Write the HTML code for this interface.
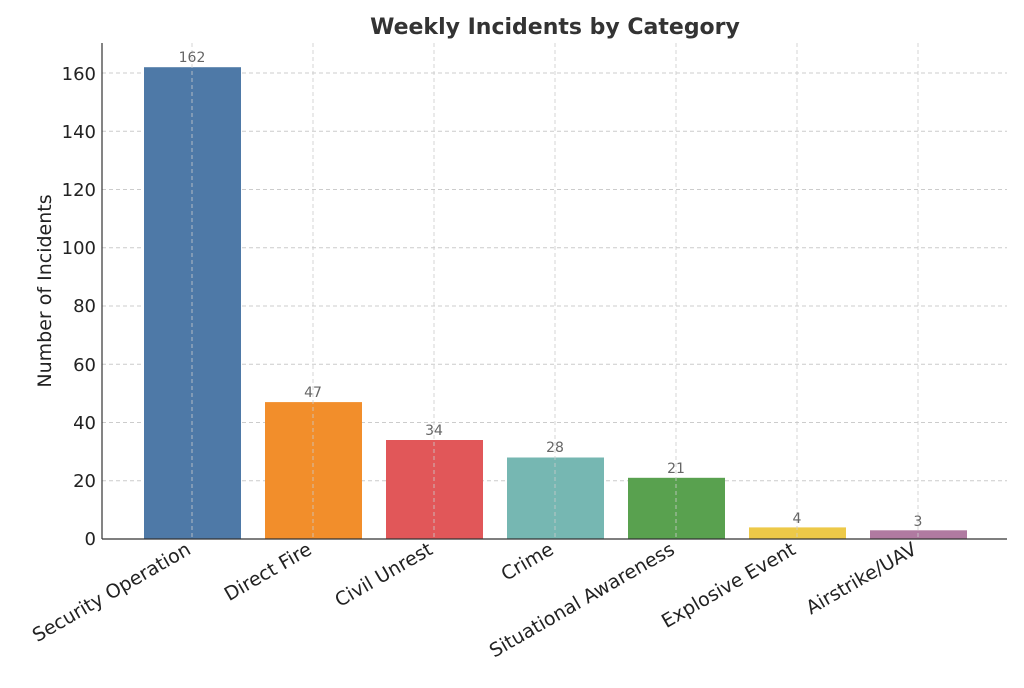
<!DOCTYPE html>
<html><head><meta charset="utf-8"><style>body{margin:0;background:#fff}</style></head><body>
<svg width="1024" height="683" xmlns="http://www.w3.org/2000/svg" font-family="DejaVu Sans, Liberation Sans, sans-serif">
<rect width="1024" height="683" fill="#fff"/>
<text x="555" y="34" text-anchor="middle" font-size="22" font-weight="bold" fill="#333">Weekly Incidents by Category</text>
<g stroke="#ccc" stroke-dasharray="4,3" stroke-width="1">
<line x1="102" x2="1007" y1="480.75" y2="480.75"/><line x1="102" x2="1007" y1="422.5" y2="422.5"/>
<line x1="102" x2="1007" y1="364.25" y2="364.25"/><line x1="102" x2="1007" y1="306" y2="306"/>
<line x1="102" x2="1007" y1="247.75" y2="247.75"/><line x1="102" x2="1007" y1="189.5" y2="189.5"/>
<line x1="102" x2="1007" y1="131.25" y2="131.25"/><line x1="102" x2="1007" y1="73" y2="73"/>
</g>
<g>
<rect x="144" y="67.2" width="97" height="471.8" fill="#4e79a7"/>
<rect x="265" y="402.1" width="97" height="136.9" fill="#f28e2b"/>
<rect x="386" y="440" width="97" height="99" fill="#e15759"/>
<rect x="507" y="457.5" width="97" height="81.5" fill="#76b7b2"/>
<rect x="628" y="477.8" width="97" height="61.2" fill="#59a14f"/>
<rect x="749" y="527.4" width="97" height="11.6" fill="#edc948"/>
<rect x="870" y="530.3" width="97" height="8.7" fill="#b07aa1"/>
</g>
<g stroke="#ccc" stroke-dasharray="4,3" stroke-width="1" opacity="0.8">
<line x1="192" x2="192" y1="43" y2="539"/><line x1="313" x2="313" y1="43" y2="539"/>
<line x1="434" x2="434" y1="43" y2="539"/><line x1="555" x2="555" y1="43" y2="539"/>
<line x1="676" x2="676" y1="43" y2="539"/><line x1="797" x2="797" y1="43" y2="539"/>
<line x1="918" x2="918" y1="43" y2="539"/>
</g>
<g font-size="14" fill="#666" text-anchor="middle">
<text x="192" y="62">162</text><text x="313" y="397">47</text><text x="434" y="435">34</text>
<text x="555" y="452">28</text><text x="676" y="473">21</text><text x="797" y="523">4</text><text x="918" y="526">3</text>
</g>
<line x1="102" x2="102" y1="43" y2="539" stroke="#333" stroke-width="1.2"/>
<line x1="102" x2="1007" y1="539" y2="539" stroke="#333" stroke-width="1.2"/>
<g font-size="18" fill="#222" text-anchor="end">
<text x="96" y="545">0</text><text x="96" y="487">20</text><text x="96" y="429">40</text>
<text x="96" y="371">60</text><text x="96" y="312">80</text><text x="96" y="254">100</text>
<text x="96" y="196">120</text><text x="96" y="138">140</text><text x="96" y="80">160</text>
</g>
<text transform="translate(51,291) rotate(-90)" text-anchor="middle" font-size="19" fill="#222">Number of Incidents</text>
<g font-size="19" fill="#222" text-anchor="end">
<text transform="translate(192,553) rotate(-30)">Security Operation</text>
<text transform="translate(313,553) rotate(-30)">Direct Fire</text>
<text transform="translate(434,553) rotate(-30)">Civil Unrest</text>
<text transform="translate(555,553) rotate(-30)">Crime</text>
<text transform="translate(676,553) rotate(-30)">Situational Awareness</text>
<text transform="translate(797,553) rotate(-30)">Explosive Event</text>
<text transform="translate(918,553) rotate(-30)">Airstrike/UAV</text>
</g>
</svg>
</body></html>
